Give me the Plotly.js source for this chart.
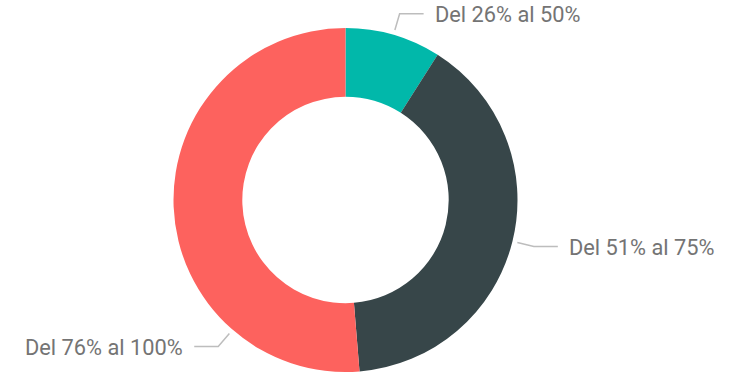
<!DOCTYPE html>
<html>
<head>
<meta charset="utf-8">
<script src="https://cdn.plot.ly/plotly-3.0.1.min.js"></script>
<style>
  html, body { margin: 0; padding: 0; background: #fff; }
  #chart { width: 737px; height: 376px; }
</style>
</head>
<body>
<div id="chart"></div>
<script>
// Share of respondents by range (percent)
const categories = ["Del 26% al 50%", "Del 51% al 75%", "Del 76% al 100%"];
const values = [9.0, 39.7, 51.3];
const colors = ["#01B8AA", "#374649", "#FD625E"];

const W = 737, H = 376;
// Donut geometry in pixels
const cx = 345.5, cy = 200, R = 172;
const holeFrac = 0.6;

// Label placement: angle (deg clockwise from 12 o'clock) where each leader line starts.
// null = slice mid-angle.
const labelAngleOverride = [null, null, 221];

const total = values.reduce((a, b) => a + b, 0);
let acc = 0;
const midAngles = values.map(v => {
  const m = (acc + v / 2) / total * 360;
  acc += v;
  return m;
});

const toPx = (ang, r) => {
  const a = ang * Math.PI / 180;
  return [cx + r * Math.sin(a), cy - r * Math.cos(a)];
};
const px2paper = (x, y) => [x / W, 1 - y / H];

const shapes = [];
const annotations = [];
categories.forEach((name, i) => {
  const ang = labelAngleOverride[i] != null ? labelAngleOverride[i] : midAngles[i];
  const p0 = toPx(ang, R + 5);
  const p1 = toPx(ang, R + 22);
  const right = Math.sin(ang * Math.PI / 180) >= 0;
  const p2 = [p1[0] + (right ? 24 : -24), p1[1]];
  const a = px2paper(...p0), b = px2paper(...p1), c = px2paper(...p2);
  shapes.push({
    type: "path", xref: "paper", yref: "paper",
    path: `M ${a[0]} ${a[1]} L ${b[0]} ${b[1]} L ${c[0]} ${c[1]}`,
    line: { color: "#BDBDBD", width: 1.5 }
  });
  const t = px2paper(p2[0] + (right ? 9 : -9), p2[1] + 1);
  annotations.push({
    xref: "paper", yref: "paper", x: t[0], y: t[1],
    xanchor: right ? "left" : "right", yanchor: "middle",
    text: name, showarrow: false,
    font: { family: "Roboto, 'DejaVu Sans', sans-serif", size: 21.8, color: "#747474" }
  });
});

const trace = {
  type: "pie",
  labels: categories,
  values: values,
  hole: holeFrac,
  sort: false,
  direction: "clockwise",
  rotation: 0,
  textinfo: "none",
  marker: { colors: colors, line: { width: 0 } },
  domain: {
    x: [(cx - R) / W, (cx + R) / W],
    y: [1 - (cy + R) / H, 1 - (cy - R) / H]
  },
  hoverinfo: "label+percent"
};

Plotly.newPlot("chart", [trace], {
  width: W, height: H,
  margin: { l: 0, r: 0, t: 0, b: 0 },
  showlegend: false,
  paper_bgcolor: "#ffffff",
  shapes: shapes,
  annotations: annotations
}, { displayModeBar: false, staticPlot: true });
</script>
</body>
</html>
